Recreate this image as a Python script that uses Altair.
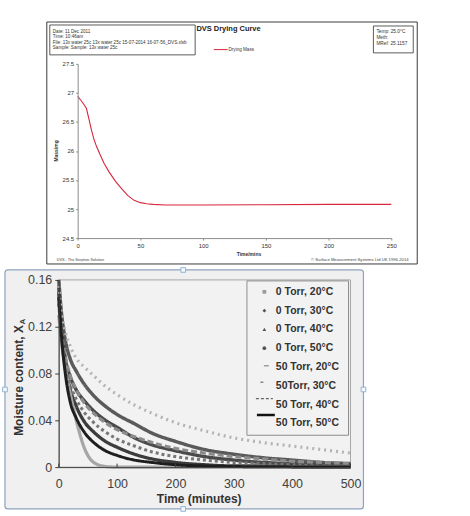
import altair as alt
import pandas as pd

# ---------------- top chart (DVS drying curve) ----------------
dvs_time = [0, 3, 5, 7, 9, 11, 13, 15, 18, 21, 25, 30, 35, 40, 45, 50, 55, 60, 70, 80, 100, 150, 200, 250]
dvs_mass = [26.94, 26.86, 26.80, 26.73, 26.55, 26.36, 26.20, 26.08, 25.93, 25.79, 25.64, 25.48,
            25.35, 25.23, 25.15, 25.11, 25.09, 25.08, 25.07, 25.07, 25.07, 25.075, 25.08, 25.08]
dvs_y_ticks = [24.5, 25, 25.5, 26, 26.5, 27, 27.5]
dvs_x_ticks = [0, 50, 100, 150, 200, 250]
info_lines = ["Date: 11 Dec 2011", "Time: 10:46am",
              "File: 13x water 25c 13x water 25c 15-07-2014 16-07-56_DVS.xlsb",
              "Sample: Sample: 13x water 25c"]
meta_lines = ["Temp: 25.0°C", "Meth:", "MRef: 25.1157"]

# ---------------- bottom chart (moisture content) ----------------
times = [0, 5, 10, 20, 30, 45, 60, 80, 100, 130, 160, 200, 250, 300, 350, 400, 450, 500]
series_names = ["0 Torr, 20°C", "0 Torr, 30°C", "0 Torr, 40°C", "0 Torr, 50°C",
                "50 Torr, 20°C", "50Torr, 30°C", "50 Torr, 40°C", "50 Torr, 50°C"]
torr0_20 = [0.160, 0.130, 0.112, 0.092, 0.082, 0.070, 0.061, 0.052, 0.045, 0.037, 0.029, 0.022, 0.015, 0.011, 0.008, 0.006, 0.004, 0.003]
torr0_30 = [0.155, 0.120, 0.097, 0.077, 0.066, 0.056, 0.048, 0.040, 0.034, 0.025, 0.019, 0.014, 0.009, 0.006, 0.004, 0.003, 0.002, 0.002]
torr0_40 = [0.150, 0.115, 0.090, 0.066, 0.052, 0.038, 0.030, 0.022, 0.017, 0.011, 0.007, 0.004, 0.002, 0.001, 0.001, 0.0005, 0.0003, 0.0002]
torr0_50 = [0.130, 0.105, 0.088, 0.062, 0.040, 0.015, 0.004, 0.0005, 0.0, 0.0, 0.0, 0.0, 0.0, 0.0, 0.0, 0.0, 0.0, 0.0]
torr50_20 = [0.155, 0.130, 0.118, 0.103, 0.093, 0.085, 0.078, 0.069, 0.062, 0.053, 0.046, 0.038, 0.031, 0.025, 0.021, 0.018, 0.015, 0.012]
torr50_30 = [0.140, 0.115, 0.098, 0.078, 0.066, 0.054, 0.046, 0.038, 0.032, 0.026, 0.021, 0.016, 0.012, 0.009, 0.007, 0.005, 0.004, 0.003]
torr50_40 = [0.140, 0.110, 0.090, 0.070, 0.058, 0.046, 0.038, 0.030, 0.024, 0.018, 0.013, 0.009, 0.006, 0.004, 0.003, 0.002, 0.001, 0.001]
torr50_50 = [0.145, 0.110, 0.085, 0.055, 0.042, 0.029, 0.021, 0.014, 0.010, 0.006, 0.004, 0.002, 0.001, 0.0005, 0.0003, 0.0002, 0.0001, 0.0]
series_values = [torr0_20, torr0_30, torr0_40, torr0_50, torr50_20, torr50_30, torr50_40, torr50_50]
moist_y_ticks = [0, 0.04, 0.08, 0.12, 0.16]
moist_x_ticks = [0, 100, 200, 300, 400, 500]

# styles
series_colors = ["#5a5a5a", "#4a4a4a", "#3c3c3c", "#a6a6a6", "#b4b4b4", "#8c8c8c", "#777777", "#1e1e1e"]
series_widths = [3.5, 3.0, 3.0, 3.5, 1.5, 1.5, 1.5, 3.0]
series_dashes = [[1, 0], [1, 0], [1, 0], [1, 0], [2, 4], [6, 3], [3, 3], [1, 0]]
legend_mark_colors = ["#9a9a9a", "#555555", "#555555", "#555555"]

BASE = "Liberation Sans"

one = pd.DataFrame({"k": [0]})


def box(x1, x2, y1, y2, **kw):
    return alt.Chart(one).mark_rect(**kw).encode(
        x=alt.value(x1), x2=alt.value(x2), y=alt.value(y1), y2=alt.value(y2))


def label(text, x, y, **kw):
    return alt.Chart(one).mark_text(**kw).encode(
        x=alt.value(x), y=alt.value(y), text=alt.value(text))


# ---------- top chart ----------
dvs_df = pd.DataFrame({"time": dvs_time, "mass": dvs_mass})
top_axis = dict(grid=False, title="", domainColor="#8c8c8c", tickColor="#8c8c8c", tickSize=2,
                labelFontSize=6, labelColor="#333333", labelFont=BASE, labelPadding=2,
                labelFlush=False, labelOverlap=False, zindex=2)
dvs_line = alt.Chart(dvs_df).mark_line(color="#d7263d", strokeWidth=1.1).encode(
    x=alt.X("time:Q", scale=alt.Scale(domain=[0, 250], nice=False, zero=False),
            axis=alt.Axis(values=dvs_x_ticks, **top_axis)),
    y=alt.Y("mass:Q", scale=alt.Scale(domain=[24.5, 27.5], nice=False, zero=False),
            axis=alt.Axis(values=dvs_y_ticks, format="~f", **top_axis)),
)

top = alt.layer(
    box(-76, 394, -42, 202, opacity=0),
    box(-31, 341, -42, 201, fill="white", stroke="#3a3a3a", strokeWidth=1),
    box(-28, 118, -39, -9, fill="white", stroke="#333333", strokeWidth=0.8),
    box(297, 337, -38, -11, fill="white", stroke="#333333", strokeWidth=0.8),
    label(info_lines, -25, -35, align="left", baseline="top", fontSize=4.6, lineHeight=5.4,
          font=BASE, color="#333333"),
    label(meta_lines, 300, -35, align="left", baseline="top", fontSize=4.8, lineHeight=6,
          font=BASE, color="#333333"),
    label("DVS Drying Curve", 151.5, -34.7, align="center", baseline="middle", fontSize=7.5,
          fontWeight="bold", font=BASE, color="#222222"),
    alt.Chart(one).mark_rule(color="#d7263d", strokeWidth=1).encode(
        x=alt.value(136.7), x2=alt.value(150.7), y=alt.value(-14.3)),
    label("Drying Mass", 151.5, -14.3, align="left", baseline="middle", fontSize=4.6,
          font=BASE, color="#333333"),
    dvs_line,
    label("Mass/mg", -22, 87.5, angle=270, align="center", baseline="middle", fontSize=5,
          fontWeight="bold", font=BASE, color="#333333"),
    label("Time/mins", 172, 190.7, align="center", baseline="middle", fontSize=5,
          fontWeight="bold", font=BASE, color="#333333"),
    label("DVS - The Sorption Solution", -21, 197, align="left", baseline="middle", fontSize=3.8,
          font=BASE, color="#444444"),
    label("© Surface Measurement Systems Ltd UK 1996-2014", 332.3, 197.3, align="right",
          baseline="middle", fontSize=4.2, font=BASE, color="#444444"),
).properties(width=315, height=175)

# ---------- bottom chart ----------
rows = []
for name, vals in zip(series_names, series_values):
    for t, v in zip(times, vals):
        rows.append({"series": name, "time": t, "moisture": v})
moist_df = pd.DataFrame(rows)

bot_axis = dict(grid=False, title="", domainColor="#404040", tickColor="#404040",
                labelFontSize=12.5, labelColor="#404040", labelFont=BASE,
                labelFlush=False, labelOverlap=False, zindex=2)
x_b = alt.X("time:Q", scale=alt.Scale(domain=[0, 500], range=[-19, 274], nice=False, zero=False),
            axis=alt.Axis(values=moist_x_ticks, ticks=False, labelPadding=10, **bot_axis))

lines = alt.Chart(moist_df).mark_line(interpolate="monotone").encode(
    x=x_b,
    y=alt.Y("moisture:Q", scale=alt.Scale(domain=[0, 0.16], nice=False, zero=False),
            axis=alt.Axis(values=moist_y_ticks, format="~f", offset=19, tickSize=4,
                          labelPadding=3, **bot_axis)),
    color=alt.Color("series:N", scale=alt.Scale(domain=series_names, range=series_colors), legend=None),
    strokeDash=alt.StrokeDash("series:N", scale=alt.Scale(domain=series_names, range=series_dashes),
                              legend=None),
    strokeWidth=alt.StrokeWidth("series:O", scale=alt.Scale(domain=series_names, range=series_widths),
                                legend=None),
)

tick_df = pd.DataFrame({"time": moist_x_ticks})
inner_ticks = alt.Chart(tick_df).mark_rule(color="#404040", strokeWidth=1).encode(
    x=x_b, y=alt.value(188), y2=alt.value(184.5))

leg_df = pd.DataFrame({"series": series_names})
leg_y = alt.Y("series:N", sort=series_names,
              scale=alt.Scale(domain=series_names, range=[12, 144], padding=0), axis=None)
leg_text = alt.Chart(leg_df).mark_text(align="left", baseline="middle", font=BASE, fontSize=10.5,
                                       fontWeight="bold", color="#333333").encode(
    x=alt.value(199), y=leg_y, text="series:N")
leg_points = alt.Chart(leg_df).transform_filter(
    alt.FieldOneOfPredicate(field="series", oneOf=series_names[:4])
).mark_point(filled=True, size=14, opacity=1).encode(
    x=alt.value(187.5), y=leg_y,
    shape=alt.Shape("series:N", scale=alt.Scale(domain=series_names[:4],
                                                range=["square", "diamond", "triangle-up", "circle"]),
                    legend=None),
    fill=alt.Fill("series:N", scale=alt.Scale(domain=series_names[:4], range=legend_mark_colors),
                  legend=None),
)


def leg_rule(name, x1, x2, color, width, dash):
    return alt.Chart(leg_df).transform_filter(alt.datum.series == name).mark_rule(
        color=color, strokeWidth=width, strokeDash=dash).encode(
        x=alt.value(x1), x2=alt.value(x2), y=leg_y)


def handle(x, y):
    return alt.Chart(one).mark_square(size=22, fill="#f4f8fc", stroke="#8fb3d6", strokeWidth=1,
                                      opacity=1).encode(x=alt.value(x), y=alt.value(y))


bottom = alt.layer(
    box(-76, 394, -13, 239, opacity=0),
    box(-73, 287, -10, 230, fill="#f0f0f0", stroke="#8ea3bd", strokeWidth=1.2, cornerRadius=3),
    box(-19, 274, 0, 188, fill="#f2f2f2", stroke="#a6a6a6", strokeWidth=1),
    box(170, 272, 1, 156, fill="#f2f2f2", stroke="#8c8c8c", strokeWidth=1),
    lines,
    inner_ticks,
    leg_points,
    leg_rule(series_names[4], 187, 192, "#a0a0a0", 1.5, [1, 0]),
    leg_rule(series_names[5], 183.5, 186.5, "#888888", 1.5, [1, 0]),
    leg_rule(series_names[6], 179, 196, "#666666", 1.2, [3, 2]),
    leg_rule(series_names[7], 180, 198, "#111111", 2.5, [1, 0]),
    leg_text,
    label("Moisture content, X", -59, 101, angle=270, align="center", baseline="middle",
          fontSize=12, fontWeight="bold", font=BASE, color="#333333"),
    label("A", -55, 42, angle=270, align="center", baseline="middle",
          fontSize=8, fontWeight="bold", font=BASE, color="#333333"),
    label("Time (minutes)", 122, 220, align="center", baseline="middle",
          fontSize=12, fontWeight="bold", font=BASE, color="#333333"),
    handle(106, -10), handle(106, 230), handle(-73, 110), handle(287, 110),
).resolve_scale(y="independent").properties(width=274, height=188)

chart = alt.vconcat(top, bottom, spacing=0).properties(
    padding={"left": 0, "top": 20, "right": 0, "bottom": 0},
    background="white",
).configure_view(strokeWidth=0)

chart.save("out.html", embed_options={"renderer": "svg", "actions": False})
